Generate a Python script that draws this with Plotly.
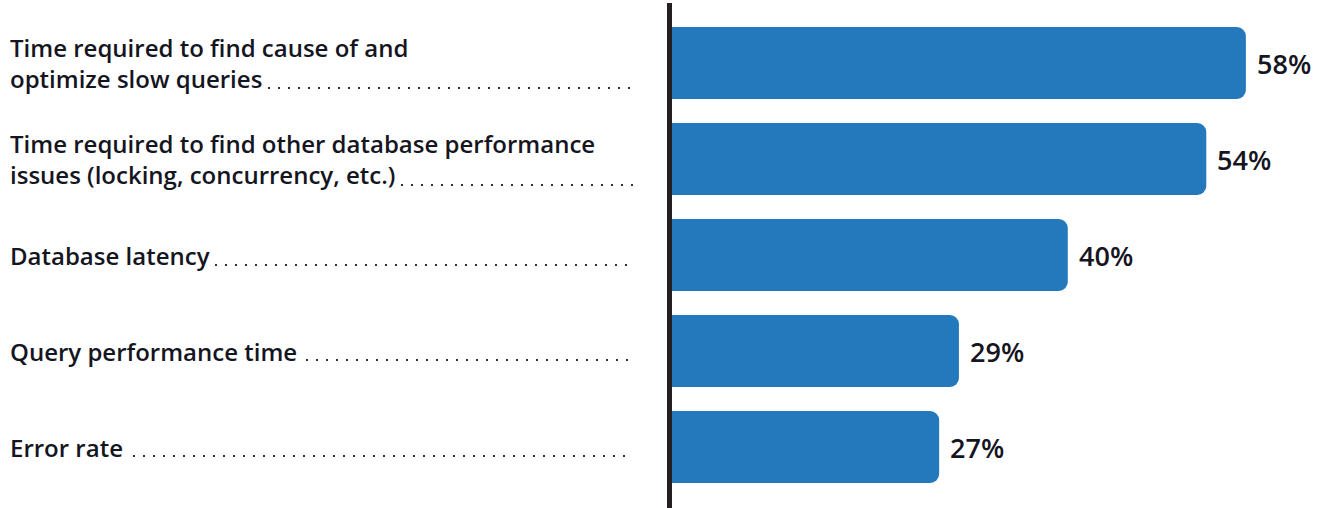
import plotly.graph_objects as go

# Survey results: share of respondents per challenge
categories = [
    "Time required to find cause of and<br>optimize slow queries",
    "Time required to find other database performance<br>issues (locking, concurrency, etc.)",
    "Database latency",
    "Query performance time",
    "Error rate",
]
values = [58, 54, 40, 29, 27]
value_labels = ["58%", "54%", "40%", "29%", "27%"]

# Layout constants (pixels)
W, H = 1327, 508
PLOT_LEFT = 672
ROW_PX = 96          # vertical distance between bar centres
FIRST_CENTER = 63    # pixel y of first bar centre
X_MAX = 66.2

BAR_COLOR = "#2479BD"
TEXT_COLOR = "#15151f"
AXIS_COLOR = "#231f20"
FONT = "Open Sans"

# leader-dot start/end (px) for each row, and their offset below the row centre
leader_start_px = [268, 401, 215, 306, 133]
leader_end_px = [632, 640, 632, 632, 632]
leader_offset_px = [25, 26, 10, 9, 9]

positions = list(range(len(categories)))
plot_w = W - PLOT_LEFT
y_top = -FIRST_CENTER / ROW_PX
y_bottom = y_top + H / ROW_PX


def px_to_paper(px):
    return (px - PLOT_LEFT) / plot_w


fig = go.Figure()
fig.add_trace(go.Bar(
    x=values,
    y=positions,
    orientation="h",
    width=72 / ROW_PX,
    marker=dict(color=BAR_COLOR, cornerradius=9, line=dict(width=0)),
    hoverinfo="skip",
))

annotations = []
shapes = []
for i, (cat, val, lab) in enumerate(zip(categories, values, value_labels)):
    # category label on the left
    annotations.append(dict(
        x=px_to_paper(8), xref="paper", xanchor="left",
        y=i, yref="y", yanchor="middle",
        text=cat, showarrow=False, align="left",
        font=dict(family=FONT, size=24, color=TEXT_COLOR, weight=600),
    ))
    # value label at the bar end
    annotations.append(dict(
        x=val, xref="x", xanchor="left", xshift=9,
        y=i, yref="y", yanchor="middle",
        text=lab, showarrow=False,
        font=dict(family=FONT, size=27, color=TEXT_COLOR, weight=600),
    ))
    # dotted leader between label and axis
    yl = i + leader_offset_px[i] / ROW_PX
    shapes.append(dict(
        type="line", xref="paper", yref="y",
        x0=px_to_paper(leader_start_px[i]), x1=px_to_paper(leader_end_px[i]),
        y0=yl, y1=yl,
        line=dict(color="#333333", width=2, dash="2px,8px"),
    ))

# vertical baseline
shapes.append(dict(
    type="line", xref="paper", yref="paper",
    x0=px_to_paper(669.5), x1=px_to_paper(669.5),
    y0=1 - 3 / H, y1=0,
    line=dict(color=AXIS_COLOR, width=5),
))

fig.update_layout(
    width=W, height=H,
    margin=dict(l=PLOT_LEFT, r=0, t=0, b=0),
    paper_bgcolor="white", plot_bgcolor="white",
    showlegend=False,
    xaxis=dict(range=[0, X_MAX], visible=False, fixedrange=True),
    yaxis=dict(range=[y_bottom, y_top], visible=False, fixedrange=True),
    annotations=annotations,
    shapes=shapes,
)

fig.write_html("out.html", config={"displayModeBar": False})
